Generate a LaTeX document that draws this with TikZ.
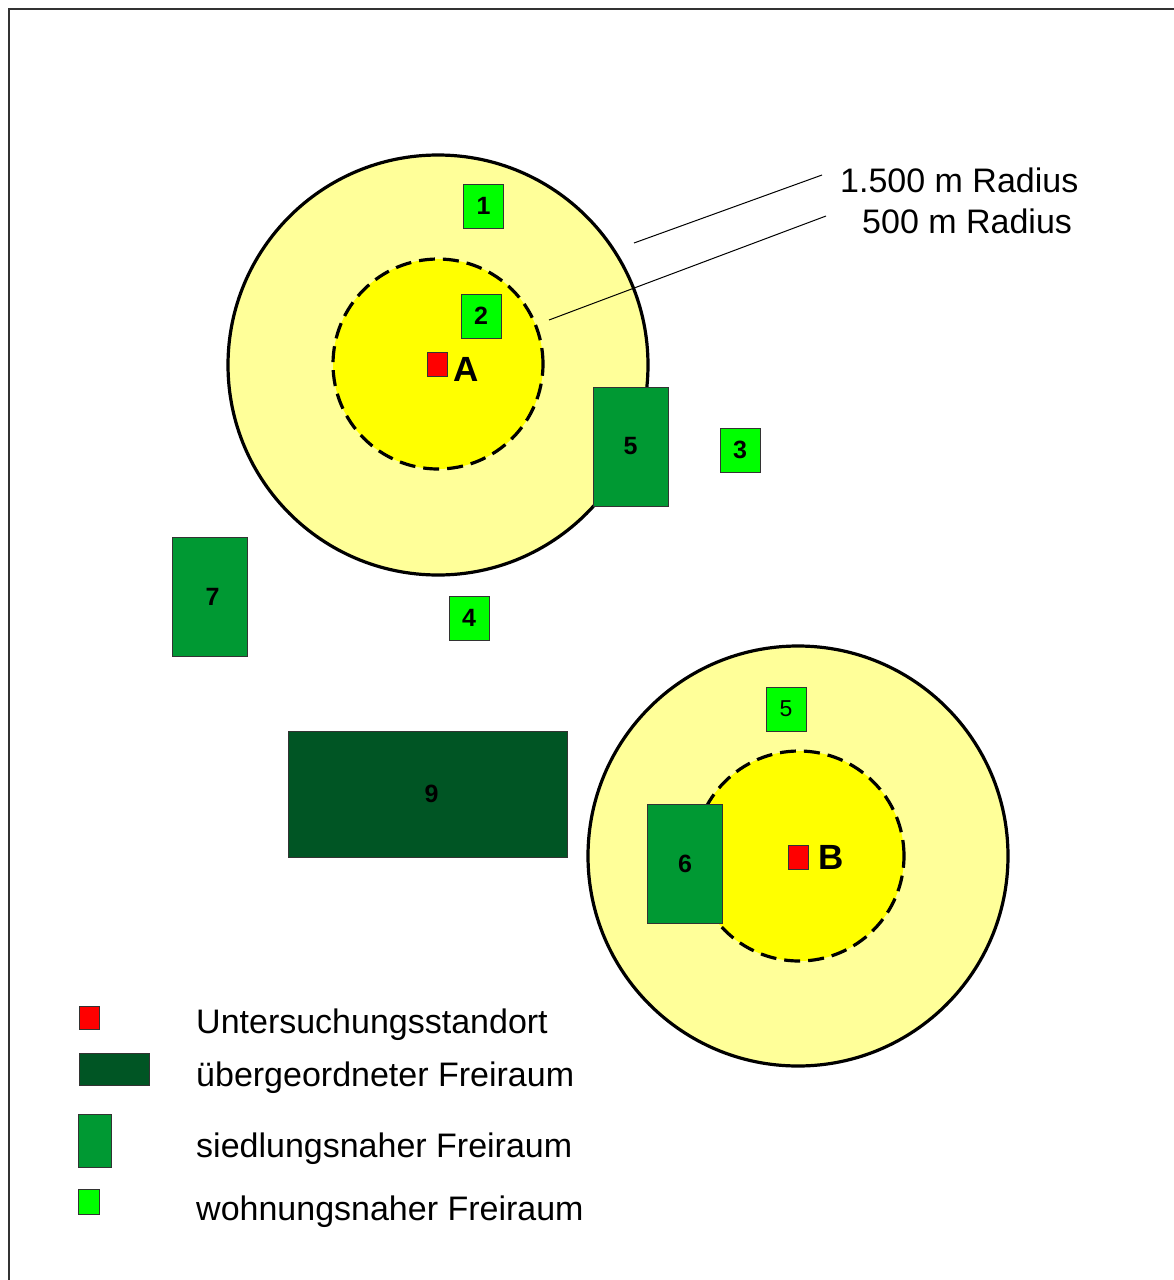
\documentclass[tikz,border=0pt]{standalone}
\usepackage{fontspec}
\setmainfont{Liberation Sans}
\definecolor{outeryellow}{HTML}{FFFF99}
\definecolor{inneryellow}{HTML}{FFFF00}
\definecolor{wohngreen}{HTML}{00FF00}
\definecolor{siedgreen}{HTML}{009933}
\definecolor{uebgreen}{HTML}{005524}
\definecolor{standortred}{HTML}{FF0000}
\begin{document}
\begin{tikzpicture}[x=1pt,y=-1pt,
  area/.style={rectangle, draw=black!80, line width=0.8pt, inner sep=0pt,
    font=\bfseries\fontsize{25}{25}\selectfont},
  wohn/.style={area, fill=wohngreen, minimum width=40pt, minimum height=44pt},
  sied/.style={area, fill=siedgreen, minimum width=75pt, minimum height=119pt},
  ueber/.style={area, fill=uebgreen, minimum width=279pt, minimum height=126pt},
  standort/.style={rectangle, draw=black!80, line width=0.8pt, fill=standortred,
    inner sep=0pt, minimum width=20pt, minimum height=24pt},
  site/.style={anchor=base west, inner sep=0pt, font=\bfseries\fontsize{35}{35}\selectfont},
  outerring/.style={fill=outeryellow, draw=black, line width=3.2pt},
  innerring/.style={fill=inneryellow, draw=black, line width=3.2pt, dash pattern=on 16pt off 8pt},
  leader/.style={draw=black, line width=1pt},
  caption/.style={anchor=base west, inner sep=0pt, font=\fontsize{34}{34}\selectfont}]

\useasboundingbox (0,0) rectangle (1174,1280);
\fill[white] (0,0) rectangle (1174,1280);

% frame
\draw[black!80, line width=1.5pt] (9,1280) -- (9,9) -- (1174,9);

% catchment rings around site A
\path[outerring] (438,365) circle (210pt);
\path[innerring] (438,364) circle (105pt);

% catchment rings around site B
\path[outerring] (798,856) circle (210pt);
\path[innerring] (799,856) circle (105pt);

% open spaces near dwellings
\node[wohn] (w1) at (483.5,206) {1};
\node[wohn] (w2) at (481,316) {2};
\node[wohn] (w3) at (740,450) {3};
\node[wohn] (w4) at (469,618) {4};
\node[wohn, font=\fontsize{23}{23}\selectfont] (w5) at (786,709) {5};

% open spaces near settlements
\node[sied] (s5) at (630.5,446.5) {5};
\node[sied] (s6) at (685,863.5) {6};
\node[sied] (s7) at (209.5,597) {\hspace*{6pt}7};

% superordinate open space
\node[ueber] (u9) at (427.5,794) {\hspace*{8pt}9};

% study sites
\node[standort] (siteA) at (437,364.5) {};
\node[site] (labA) at (453,381) {A};
\node[standort] (siteB) at (798.5,857) {};
\node[site] (labB) at (818,869) {B};

% radius labels with leaders
\node[caption] (r1500) at (840,192) {1.500 m Radius};
\node[caption] (r500) at (862,233) {500 m Radius};
\coordinate (onOuter) at (634,243);
\coordinate (onInner) at (549,320);
\coordinate (tip1500) at (822,175);
\coordinate (tip500) at (826,216);
\draw[leader] (onOuter) -- (tip1500);
\draw[leader] (onInner) -- (tip500);

% legend
\node[standort, minimum width=20pt, minimum height=23pt] (legRed) at (89,1017.5) {};
\node[area, fill=uebgreen, minimum width=70pt, minimum height=32pt] (legDark) at (114,1069) {};
\node[area, fill=siedgreen, minimum width=33pt, minimum height=53pt] (legMid) at (94.5,1140.5) {};
\node[area, fill=wohngreen, minimum width=21pt, minimum height=25pt] (legLight) at (88.5,1201.5) {};
\node[caption] (txtRed) at (196,1033) {Untersuchungsstandort};
\node[caption] (txtDark) at (196,1086) {übergeordneter Freiraum};
\node[caption] (txtMid) at (196,1157) {siedlungsnaher Freiraum};
\node[caption] (txtLight) at (196,1220) {wohnungsnaher Freiraum};

\end{tikzpicture}
\end{document}
